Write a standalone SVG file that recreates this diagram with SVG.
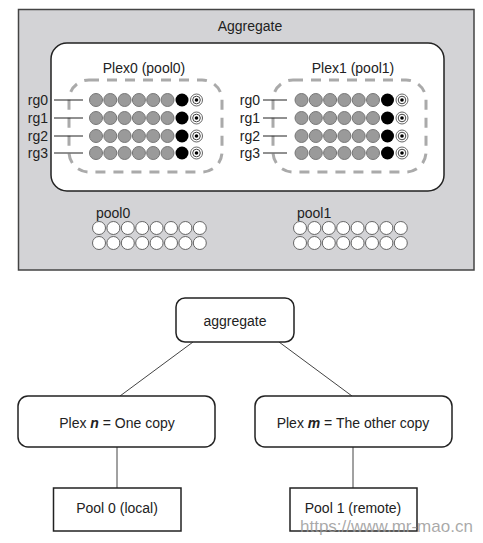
<svg xmlns="http://www.w3.org/2000/svg" xmlns:xlink="http://www.w3.org/1999/xlink" width="483" height="543" viewBox="0 0 483 543">
<style>
text{font-family:"Liberation Sans",Arial,sans-serif;font-size:14px;fill:#222}
.dash{fill:none;stroke:#aaa;stroke-width:3;stroke-dasharray:10 8}
.g{fill:#9a9a9a;stroke:#777;stroke-width:1}
.b{fill:#000}
.w{fill:#fff;stroke:#666;stroke-width:1}
.ln{stroke:#222;stroke-width:1}
.box{fill:#fff;stroke:#222;stroke-width:1.5}
.con{stroke:#444;stroke-width:1;fill:none}
</style>
<defs>
<g id="row">
<circle class="g" cx="0" cy="0" r="6.5"/>
<circle class="g" cx="14.3" cy="0" r="6.5"/>
<circle class="g" cx="28.6" cy="0" r="6.5"/>
<circle class="g" cx="42.9" cy="0" r="6.5"/>
<circle class="g" cx="57.2" cy="0" r="6.5"/>
<circle class="g" cx="71.5" cy="0" r="6.5"/>
<circle class="b" cx="86" cy="0" r="6.5"/>
<circle cx="100.5" cy="0" r="6" fill="#fff" stroke="#666" stroke-width="1"/>
<circle cx="100.5" cy="0" r="3.8" fill="#fff" stroke="#444" stroke-width="1"/>
<circle cx="100.5" cy="0" r="1.8" fill="#000"/>
</g>
<g id="wrow">
<circle class="w" cx="0" cy="0" r="6.5"/>
<circle class="w" cx="14.4" cy="0" r="6.5"/>
<circle class="w" cx="28.8" cy="0" r="6.5"/>
<circle class="w" cx="43.2" cy="0" r="6.5"/>
<circle class="w" cx="57.6" cy="0" r="6.5"/>
<circle class="w" cx="72" cy="0" r="6.5"/>
<circle class="w" cx="86.4" cy="0" r="6.5"/>
<circle class="w" cx="100.8" cy="0" r="6.5"/>
</g>
</defs>

<g id="aggregate-outer">
<rect x="18.5" y="9.5" width="455.5" height="260.5" fill="#d3d3d6" stroke="#444" stroke-width="1.5"/>
<text x="250" y="31" text-anchor="middle">Aggregate</text>
<rect x="51" y="43" width="393" height="148" rx="16" fill="#fff" stroke="#222" stroke-width="1.5"/>
</g>

<g id="plex0">
<text x="144" y="73" text-anchor="middle">Plex0 (pool0)</text>
<rect class="dash" x="69" y="80" width="153" height="92" rx="20"/>
<text x="48" y="105" text-anchor="end">rg0</text>
<text x="48" y="123" text-anchor="end">rg1</text>
<text x="48" y="141" text-anchor="end">rg2</text>
<text x="48" y="158" text-anchor="end">rg3</text>
<line class="ln" x1="54" y1="100" x2="83" y2="100"/>
<line class="ln" x1="54" y1="118" x2="83" y2="118"/>
<line class="ln" x1="54" y1="136" x2="83" y2="136"/>
<line class="ln" x1="54" y1="153" x2="83" y2="153"/>
<use xlink:href="#row" x="96" y="100"/>
<use xlink:href="#row" x="96" y="118"/>
<use xlink:href="#row" x="96" y="136"/>
<use xlink:href="#row" x="96" y="153"/>
</g>

<g id="plex1">
<text x="353" y="73" text-anchor="middle">Plex1 (pool1)</text>
<rect class="dash" x="273" y="80" width="153" height="92" rx="20"/>
<text x="260" y="105" text-anchor="end">rg0</text>
<text x="260" y="123" text-anchor="end">rg1</text>
<text x="260" y="141" text-anchor="end">rg2</text>
<text x="260" y="158" text-anchor="end">rg3</text>
<line class="ln" x1="263" y1="100" x2="287" y2="100"/>
<line class="ln" x1="263" y1="118" x2="287" y2="118"/>
<line class="ln" x1="263" y1="136" x2="287" y2="136"/>
<line class="ln" x1="263" y1="153" x2="287" y2="153"/>
<use xlink:href="#row" x="301.5" y="100"/>
<use xlink:href="#row" x="301.5" y="118"/>
<use xlink:href="#row" x="301.5" y="136"/>
<use xlink:href="#row" x="301.5" y="153"/>
</g>

<g id="pool0">
<text x="96" y="218">pool0</text>
<use xlink:href="#wrow" x="99" y="228"/>
<use xlink:href="#wrow" x="99" y="243"/>
</g>

<g id="pool1">
<text x="297" y="218">pool1</text>
<use xlink:href="#wrow" x="300" y="228"/>
<use xlink:href="#wrow" x="300" y="243"/>
</g>

<g id="connectors">
<line class="con" x1="193" y1="342" x2="120" y2="396"/>
<line class="con" x1="279" y1="342" x2="352" y2="396"/>
<line class="con" x1="117" y1="447" x2="117" y2="488"/>
<line class="con" x1="353" y1="447" x2="353" y2="488"/>
</g>

<g id="node-aggregate">
<rect class="box" x="176" y="298" width="118" height="44" rx="9"/>
<text x="235" y="326" text-anchor="middle">aggregate</text>
</g>

<g id="node-plex-n">
<rect class="box" x="18" y="396" width="197" height="51" rx="10"/>
<text x="117" y="428" text-anchor="middle">Plex <tspan font-weight="bold" font-style="italic">n</tspan> = One copy</text>
</g>

<g id="node-plex-m">
<rect class="box" x="255" y="396" width="197" height="51" rx="10"/>
<text x="353" y="428" text-anchor="middle">Plex <tspan font-weight="bold" font-style="italic">m</tspan> = The other copy</text>
</g>

<g id="node-pool0">
<rect x="53.5" y="488" width="127.5" height="43" fill="#fff" stroke="#222" stroke-width="1.5"/>
<text x="117" y="513" text-anchor="middle">Pool 0 (local)</text>
</g>

<g id="node-pool1">
<rect x="290" y="488" width="127" height="43" fill="#fff" stroke="#222" stroke-width="1.5"/>
<text x="353" y="513" text-anchor="middle">Pool 1 (remote)</text>
</g>

<text x="300" y="532" style="font-size:17px;fill:#9a9a9a;fill-opacity:0.85">https://www.mr-mao.cn</text>
</svg>
